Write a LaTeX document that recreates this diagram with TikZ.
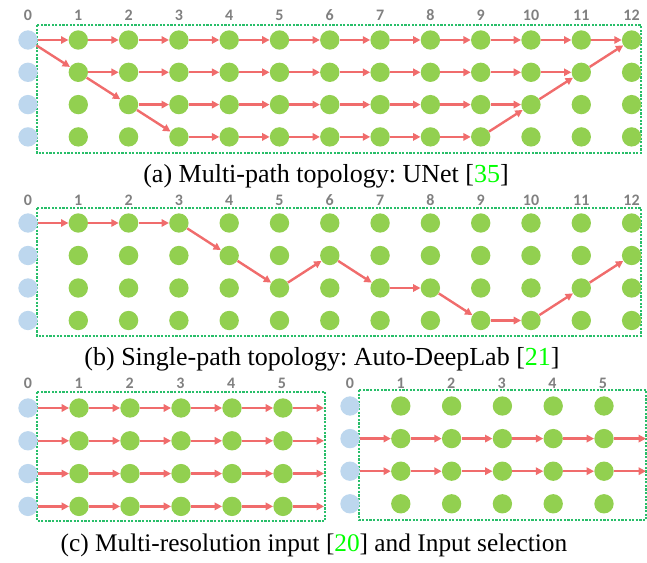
\documentclass[tikz,border=0pt]{standalone}
\usepackage{fontspec}
\setmainfont{Liberation Serif}
\newfontfamily\labfont{Carlito}
\usetikzlibrary{arrows.meta}
\definecolor{ngreen}{RGB}{146,208,80}
\definecolor{nblue}{RGB}{189,215,238}
\definecolor{arr}{RGB}{240,108,108}
\definecolor{boxc}{RGB}{40,190,105}
\definecolor{labc}{RGB}{128,128,128}
\definecolor{citec}{RGB}{0,255,0}
\frenchspacing
\tikzset{
  gnode/.style={circle,fill=ngreen,minimum size=14.5pt,inner sep=0pt},
  bnode/.style={circle,fill=nblue,minimum size=14.5pt,inner sep=0pt},
  collab/.style={font=\labfont\bfseries\fontsize{12}{13}\selectfont,text=labc,inner sep=0pt},
  conn/.style={draw=arr,line width=1.8pt,-{Triangle[length=5.5pt,width=5.5pt]}},
  frame/.style={draw=boxc,line width=0.8pt,dash pattern=on 1.6pt off 1.1pt},
  capt/.style={font=\fontsize{19.5}{22}\selectfont,anchor=base,inner sep=0pt}
}
\begin{document}
\begin{tikzpicture}[x=0.75pt,y=-0.75pt]
\useasboundingbox (0,0) rectangle (647,563);
% ---------- panel (a) ----------
\draw[frame] (37,25) rectangle (641,153);
\foreach \c in {0,...,12} \node[collab] (la\c) at ({28+50.3*\c},15) {\c};
\foreach \r in {1,...,4} \node[bnode] (a0-\r) at (28,{40+32.3*(\r-1)}) {};
\foreach \c in {1,...,12}
  \foreach \r in {1,...,4}
    \node[gnode] (a\c-\r) at ({28+50.3*\c},{40+32.3*(\r-1)}) {};
\foreach \c in {0,...,11}{\pgfmathtruncatemacro\n{\c+1}\draw[conn] (a\c-1) -- (a\n-1);}
\foreach \c in {1,...,10}{\pgfmathtruncatemacro\n{\c+1}\draw[conn] (a\c-2) -- (a\n-2);}
\foreach \c in {2,...,9}{\pgfmathtruncatemacro\n{\c+1}\draw[conn] (a\c-3) -- (a\n-3);}
\foreach \c in {3,...,8}{\pgfmathtruncatemacro\n{\c+1}\draw[conn] (a\c-4) -- (a\n-4);}
\draw[conn] (a0-1) -- (a1-2);
\draw[conn] (a1-2) -- (a2-3);
\draw[conn] (a2-3) -- (a3-4);
\draw[conn] (a9-4) -- (a10-3);
\draw[conn] (a10-3) -- (a11-2);
\draw[conn] (a11-2) -- (a12-1);
\node[capt] (capa) at (326,183) {(a) Multi-path topology: UNet [\textcolor{citec}{35}]};
% ---------- panel (b) ----------
\draw[frame] (37,208) rectangle (641,336);
\foreach \c in {0,...,12} \node[collab] (lb\c) at ({28+50.3*\c},200) {\c};
\foreach \r in {1,...,4} \node[bnode] (b0-\r) at (28,{223+32.5*(\r-1)}) {};
\foreach \c in {1,...,12}
  \foreach \r in {1,...,4}
    \node[gnode] (b\c-\r) at ({28+50.3*\c},{223+32.5*(\r-1)}) {};
\draw[conn] (b0-1) -- (b1-1);
\draw[conn] (b1-1) -- (b2-1);
\draw[conn] (b2-1) -- (b3-1);
\draw[conn] (b3-1) -- (b4-2);
\draw[conn] (b4-2) -- (b5-3);
\draw[conn] (b5-3) -- (b6-2);
\draw[conn] (b6-2) -- (b7-3);
\draw[conn] (b7-3) -- (b8-3);
\draw[conn] (b8-3) -- (b9-4);
\draw[conn] (b9-4) -- (b10-4);
\draw[conn] (b10-4) -- (b11-3);
\draw[conn] (b11-3) -- (b12-2);
\node[capt] (capb) at (322,366) {(b) Single-path topology: Auto-DeepLab [\textcolor{citec}{21}]};
% ---------- panel (c) left ----------
\draw[frame] (37,392) rectangle (325,521);
\foreach \c in {0,...,5} \node[collab] (lc\c) at ({28+50.8*\c},383) {\c};
\foreach \r in {1,...,4} \node[bnode] (c0-\r) at (28,{408+32.8*(\r-1)}) {};
\foreach \c in {1,...,5}
  \foreach \r in {1,...,4}
    \node[gnode] (c\c-\r) at ({28+51*\c},{408+32.8*(\r-1)}) {};
\foreach \r in {1,...,4}{
  \coordinate (ce\r) at (324,{408+32.8*(\r-1)});
  \foreach \c in {0,...,4}{\pgfmathtruncatemacro\n{\c+1}\draw[conn] (c\c-\r) -- (c\n-\r);}
  \draw[conn] (c5-\r) -- (ce\r);
}
% ---------- panel (c) right ----------
\draw[frame] (359,390) rectangle (646,520);
\foreach \c in {0,...,5} \node[collab] (ld\c) at ({350+50.6*\c},383) {\c};
\foreach \r in {1,...,4} \node[bnode] (d0-\r) at (350,{406+32.6*(\r-1)}) {};
\foreach \c in {1,...,5}
  \foreach \r in {1,...,4}
    \node[gnode] (d\c-\r) at ({350+50.8*\c},{406+32.6*(\r-1)}) {};
\foreach \r in {2,3}{
  \coordinate (de\r) at (646,{406+32.6*(\r-1)});
  \foreach \c in {0,...,4}{\pgfmathtruncatemacro\n{\c+1}\draw[conn] (d\c-\r) -- (d\n-\r);}
  \draw[conn] (d5-\r) -- (de\r);
}
\node[capt,font=\fontsize{19}{22}\selectfont] (capc) at (314,551) {(c) Multi-resolution input [\textcolor{citec}{20}] and Input selection};
\end{tikzpicture}
\end{document}
